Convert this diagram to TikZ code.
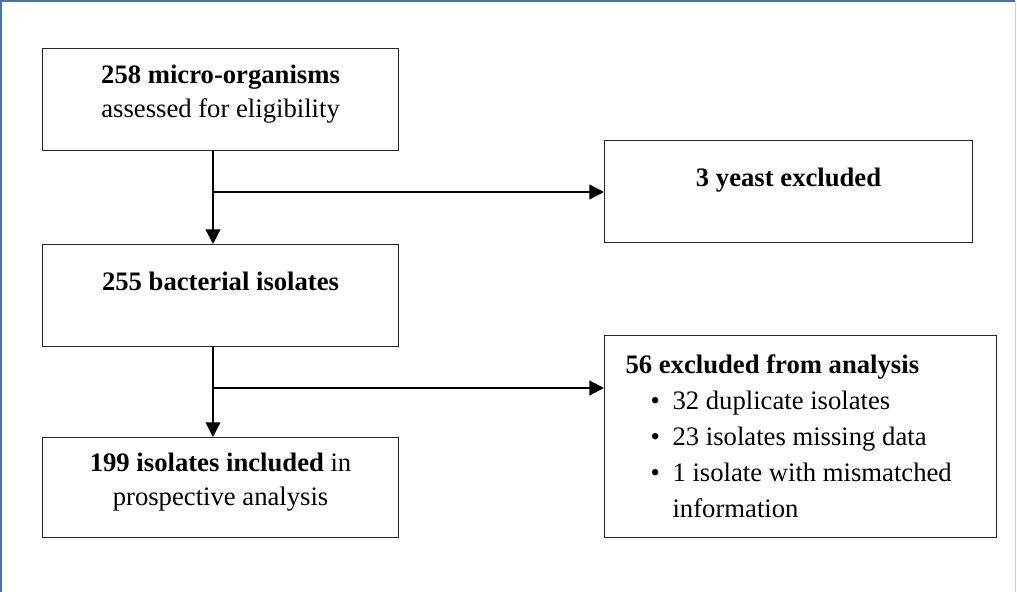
\documentclass[tikz,border=0pt]{standalone}
\usepackage{fontspec}
\setmainfont{Liberation Serif}
\usetikzlibrary{arrows.meta, positioning, calc}

\definecolor{bingkai}{RGB}{79,112,165}
\definecolor{bingkaiterang}{RGB}{196,208,228}

\newcommand{\butir}[1]{\makebox[35.25pt][l]{\hspace*{18.75pt}\textbullet}#1}

\begin{document}
\begin{tikzpicture}[
    x=0.75pt, y=-0.75pt,
    font=\fontsize{20}{25.5}\selectfont,
    kotak/.style={draw=black!85, line width=0.85pt, anchor=north west, align=center,
                  minimum width=267pt, minimum height=76.5pt, inner sep=0pt},
    samping/.style={kotak, minimum width=276pt},
    panah/.style={line width=1.6pt, -{Triangle[length=11pt, width=11pt]}}
  ]
    \useasboundingbox (0,0) rectangle (1017,592);
    % bingkai luar
    \draw[line width=1.2pt, bingkai] (1,592) -- (1,1) -- (1015,1);
    \draw[line width=1pt, bingkaiterang] (1015.5,1) -- (1015.5,592);

    % kotak utama
    \node[kotak, text depth=12pt] (awal) at (42,48)
      {\textbf{258 micro-organisms}\\assessed for eligibility};
    \node[kotak, text depth=22pt] (bakteri) at (42,244) {\textbf{255 bacterial isolates}};
    \node[kotak, minimum height=75pt, text depth=13pt] (akhir) at (42,437)
      {\textbf{199 isolates included} in\\prospective analysis};

    % kotak eksklusi
    \node[samping, text depth=22pt] (ragi) at (604,140) {\textbf{3 yeast excluded}};
    \node[kotak, minimum width=294pt, minimum height=151.5pt, align=flush left,
          text width=262.5pt, inner xsep=15.75pt, font=\fontsize{20}{27}\selectfont]
      (buang) at (604,335)
      {\textbf{56 excluded from analysis}\\
       \butir{32 duplicate isolates}\\
       \butir{23 isolates missing data}\\
       \butir{1 isolate with mismatched}\\
       \hspace*{35.25pt}information};

    % penghubung
    \coordinate (tulang) at (213,0);
    \coordinate (cabang1) at (213,192);
    \coordinate (cabang2) at (213,388);
    \draw[panah] (awal.south -| tulang) -- (bakteri.north -| tulang);
    \draw[panah] (cabang1) -- (cabang1 -| ragi.west);
    \draw[panah] (bakteri.south -| tulang) -- (akhir.north -| tulang);
    \draw[panah] (cabang2) -- (cabang2 -| buang.west);
\end{tikzpicture}
\end{document}
